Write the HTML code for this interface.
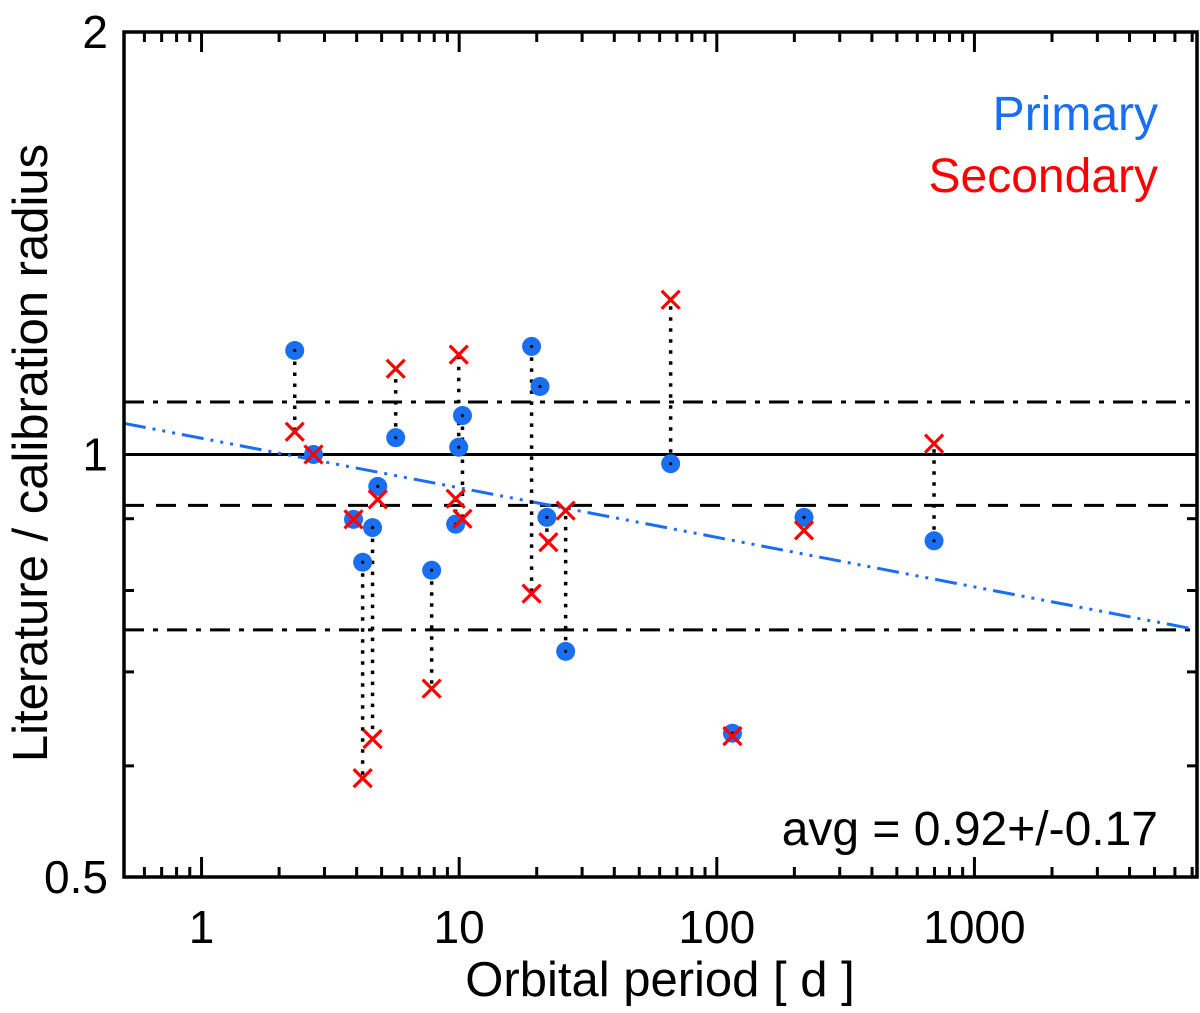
<!DOCTYPE html>
<html><head><meta charset="utf-8"><style>
html,body{margin:0;padding:0;background:#fff;}
svg{display:block;font-family:"Liberation Sans",Arial,sans-serif;}
</style></head><body>
<svg id="chart" width="1200" height="1013" viewBox="0 0 1200 1013" xmlns="http://www.w3.org/2000/svg">
<g id="plot"></g>
</svg>
<script>
const periods = [2.30, 2.72, 3.89, 4.22, 4.61, 4.83, 5.67, 7.82, 9.69, 9.96, 10.3, 19.1, 20.6, 21.9, 25.9, 66.2, 115, 218, 697];
const primaryRatio = [1.186, 1.0, 0.899, 0.838, 0.887, 0.949, 1.028, 0.827, 0.892, 1.012, 1.066, 1.194, 1.118, 0.902, 0.724, 0.985, 0.633, 0.902, 0.868];
const secondaryRatio = [1.038, 1.0, 0.899, 0.588, 0.627, 0.929, 1.151, 0.681, 0.930, 1.178, 0.900, 0.796, null, 0.866, 0.912, 1.289, 0.630, 0.883, 1.018];
const secondaryPeriods = [2.30, 2.72, 3.89, 4.22, 4.61, 4.83, 5.67, 7.82, 9.69, 9.96, 10.3, 19.1, 20.6, 22.2, 25.9, 66.2, 115, 218, 697];
const avgValue = 0.92;
const avgSigma = 0.17;
const fitCoef = 1.027;
const fitSlope = -0.0353;
const xTickLabels = ["1", "10", "100", "1000"];
const xTickValues = [1, 10, 100, 1000];
const yTickLabels = ["0.5", "1", "2"];
const yTickValues = [0.5, 1, 2];
const yMinorValues = [0.6, 0.7, 0.8, 0.9];

const L=124, R=1197, T=32, B=877;
const xMin=0.5, xMax=7310, yMin=0.5, yMax=2;
function X(v){return L+(Math.log10(v)-Math.log10(xMin))/(Math.log10(xMax)-Math.log10(xMin))*(R-L);}
function Y(v){return B-(Math.log10(v)-Math.log10(yMin))/(Math.log10(yMax)-Math.log10(yMin))*(B-T);}
const NS="http://www.w3.org/2000/svg";
const g=document.getElementById('plot');
function mk(tag,attrs,parent){const e=document.createElementNS(NS,tag);for(const k in attrs)e.setAttribute(k,attrs[k]);(parent||g).appendChild(e);return e;}

let e;
e=mk('line',{x1:L,x2:R,y1:Y(1),y2:Y(1),stroke:'#000','stroke-width':3});


e=mk('line',{x1:L,x2:R,y1:Y(avgValue),y2:Y(avgValue),stroke:'#000','stroke-width':3,'stroke-dasharray':'20,12'});


[avgValue+avgSigma, avgValue-avgSigma].forEach(v=>{
  const l=mk('line',{x1:L,x2:R,y1:Y(v),y2:Y(v),stroke:'#000','stroke-width':3,'stroke-dasharray':'20,9,5,9'});
  
  
});
e=mk('line',{x1:L,x2:R,y1:Y(fitCoef*Math.pow(xMin,fitSlope)),y2:Y(fitCoef*Math.pow(xMax,fitSlope)),stroke:'#1a6ef0','stroke-width':3,'stroke-dasharray':'22,7,3,7,3,7,3,7'});



periods.forEach((p,i)=>{
  if(secondaryRatio[i]==null) return;
  const c=mk('line',{x1:X(p),x2:X(p),y1:Y(primaryRatio[i]),y2:Y(secondaryRatio[i]),stroke:'#000','stroke-width':3.5,'stroke-dasharray':'3.5,7.5'});
  
  
});
periods.forEach((p,i)=>{
  const c=mk('circle',{cx:X(p),cy:Y(primaryRatio[i]),r:9.5,fill:'#1a6ef0'});
  
  
  const d=mk('circle',{cx:X(p),cy:Y(primaryRatio[i]),r:1.6,fill:'#000'});
  
  
});
secondaryPeriods.forEach((p,i)=>{
  const v=secondaryRatio[i]; if(v==null) return;
  const x=X(p), y=Y(v), s=9;
  const c=mk('path',{d:`M${x-s},${y-s}L${x+s},${y+s}M${x-s},${y+s}L${x+s},${y-s}`,stroke:'#ff0000','stroke-width':3.2,fill:'none'});
  
  
});

e=mk('rect',{x:L,y:T,width:R-L,height:B-T,fill:'none',stroke:'#000','stroke-width':3.5});



for(let d=-1; d<=3; d++){
  for(let m=1;m<=9;m++){
    const v=m*Math.pow(10,d); if(v<xMin||v>xMax) continue;
    const len=m===1?20:10, x=X(v);
    let t=mk('line',{x1:x,x2:x,y1:B,y2:B-len,stroke:'#000','stroke-width':3});
    
    
    t=mk('line',{x1:x,x2:x,y1:T,y2:T+len,stroke:'#000','stroke-width':3});
    
    
  }
}
xTickValues.forEach((v,i)=>{
  const t=mk('text',{x:X(v),y:943,'font-size':46,'text-anchor':'middle',fill:'#000'});
  t.textContent=xTickLabels[i];
  
  
});
yTickValues.concat(yMinorValues).forEach((v,i)=>{
  const len=i<yTickValues.length?20:10, y=Y(v);
  let t=mk('line',{x1:L,x2:L+len,y1:y,y2:y,stroke:'#000','stroke-width':3});
  
  
  t=mk('line',{x1:R,x2:R-len,y1:y,y2:y,stroke:'#000','stroke-width':3});
  
  
});
yTickValues.forEach((v,i)=>{
  const t=mk('text',{x:108,y:Y(v)+16,'font-size':46,'text-anchor':'end',fill:'#000'});
  t.textContent=yTickLabels[i];
  
  
});
e=mk('text',{x:660,y:996,'font-size':49,'text-anchor':'middle',fill:'#000'});
e.textContent='Orbital period [ d ]';


e=mk('text',{x:0,y:0,'font-size':49,'text-anchor':'middle',fill:'#000',transform:'translate(47,453) rotate(-90)'});
e.textContent='Literature / calibration radius';


e=mk('text',{x:1158,y:130,'font-size':48,'text-anchor':'end',fill:'#1a6ef0'});
e.textContent='Primary';


e=mk('text',{x:1158,y:192,'font-size':48,'text-anchor':'end',fill:'#ff0000'});
e.textContent='Secondary';


e=mk('text',{x:1158,y:845,'font-size':48,'text-anchor':'end',fill:'#000'});
e.textContent='avg = 0.92+/-0.17';


</script>
</body></html>
